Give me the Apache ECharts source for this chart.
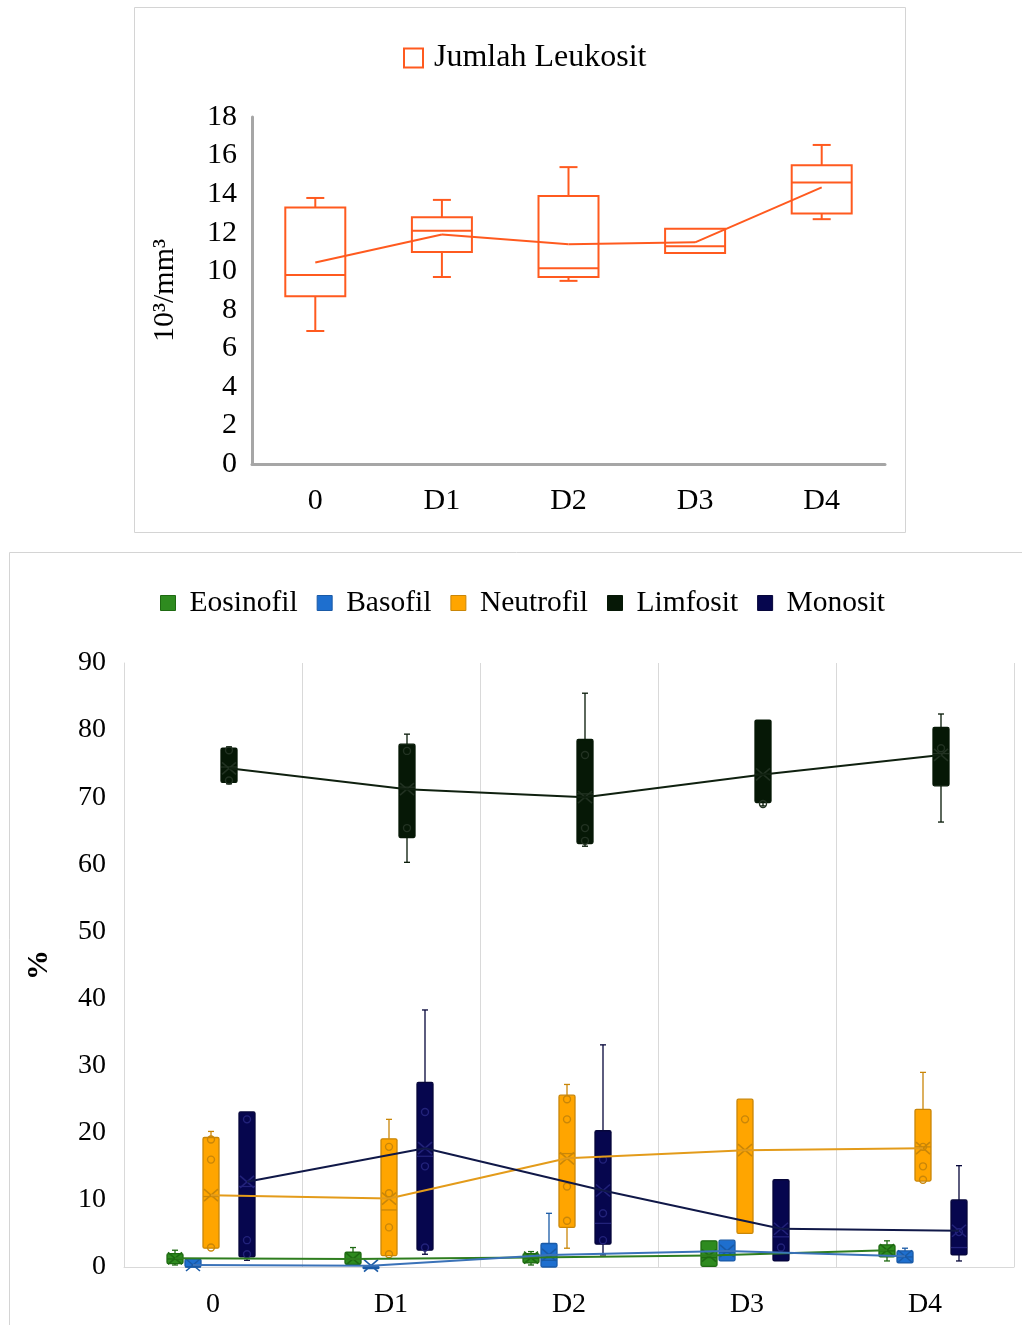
<!DOCTYPE html>
<html><head><meta charset="utf-8">
<script src="https://cdn.jsdelivr.net/npm/echarts@6/dist/echarts.min.js"></script>
<style>html,body{margin:0;padding:0;background:#fff}#c{width:1022px;height:1325px}</style>
</head><body><div id="c"></div>
<script>
// ---------- DATA ----------
const categories = ['0', 'D1', 'D2', 'D3', 'D4'];

// Top chart: Jumlah Leukosit (10^3/mm^3)  [min, Q1, median, Q3, max]
const leukositStats = [
  [6.9, 8.7, 9.8, 13.3, 13.8],
  [9.7, 11.0, 12.1, 12.8, 13.7],
  [9.5, 9.7, 10.15, 13.9, 15.4],
  [10.9, 10.95, 11.3, 12.2, 12.25],
  [12.7, 13.0, 14.6, 15.5, 16.55]
];
const leukositMean = [10.45, 11.9, 11.4, 11.5, 14.35];
const topYTicks = [0, 2, 4, 6, 8, 10, 12, 14, 16, 18];

// Bottom chart: differential count (%)  [min, Q1, median, Q3, max]
const eosinofilStats = [
  [0.3, 0.5, 1.2, 2.0, 2.5],
  [0.3, 0.4, 1.2, 2.2, 2.9],
  [0.3, 0.6, 1.3, 2.0, 2.3],
  [0.0, 0.1, 1.4, 3.9, 4.0],
  [0.9, 1.5, 2.4, 3.3, 3.9]
];
const eosinofilMean = [1.3, 1.2, 1.4, 1.7, 2.5];
const eosinofilPoints = [[], [], [], [], []];

const basofilStats = [
  [0.0, 0.0, 0.0, 1.2, 1.3],
  [0.0, 0.0, 0.0, 0.0, 0.0],
  [0.0, 0.0, 1.0, 3.5, 8.0],
  [0.9, 0.9, 2.2, 4.0, 4.0],
  [0.5, 0.6, 1.5, 2.4, 2.8]
];
const basofilMean = [0.3, 0.2, 1.8, 2.4, 1.6];
const basofilPoints = [[], [], [], [], []];

const neutrofilStats = [
  [2.7, 2.8, 10.5, 19.3, 20.2],
  [1.6, 1.7, 8.5, 19.1, 22.0],
  [2.8, 5.9, 16.9, 25.6, 27.2],
  [5.0, 5.0, 17.4, 25.0, 25.0],
  [12.7, 12.8, 17.9, 23.5, 29.0]
];
const neutrofilMean = [10.7, 10.2, 16.2, 17.4, 17.7];
const neutrofilPoints = [[19.0, 16.0, 2.9], [17.9, 11.0, 5.9, 1.9], [25.0, 22.0, 12.0, 6.9], [22.0], [17.9, 15.0, 13.0]];

const limfositStats = [
  [72.0, 72.2, 74.5, 77.3, 77.5],
  [60.3, 64.0, 71.5, 77.9, 79.4],
  [62.7, 63.1, 70.5, 78.6, 85.5],
  [68.7, 69.2, 73.4, 81.5, 81.5],
  [66.3, 71.7, 76.5, 80.4, 82.4]
];
const limfositMean = [74.3, 71.2, 70.0, 73.4, 76.3];
const limfositPoints = [[77.0, 72.5], [76.9, 65.4], [76.3, 65.4, 63.5], [69.0], [77.3]];

const monositStats = [
  [1.0, 1.5, 12.0, 23.1, 23.1],
  [1.9, 2.5, 16.5, 27.5, 38.3],
  [1.8, 3.4, 6.5, 20.3, 33.1],
  [0.9, 0.9, 4.5, 13.0, 13.0],
  [0.9, 1.8, 2.9, 10.0, 15.1]
];
const monositMean = [12.7, 17.7, 11.4, 5.7, 5.4];
const monositPoints = [[22.0, 4.0, 1.9], [23.1, 15.0, 2.9], [16.0, 8.0, 4.0], [2.9], [5.2]];
const bottomYTicks = [0, 10, 20, 30, 40, 50, 60, 70, 80, 90];

// ---------- RENDER HELPERS ----------
const FONT = "'Liberation Serif','Times New Roman',serif";

function boxSeries(name, stats, means, pts, cfg, axisIdx) {
  return {
    type: 'custom', name: name, xAxisIndex: axisIdx, yAxisIndex: axisIdx, z: 2,
    itemStyle: { color: cfg.fill === 'none' ? '#fff' : cfg.fill, borderColor: cfg.stroke, borderWidth: 1 },
    data: stats.map((s, i) => [i].concat(s)),
    encode: { x: 0, y: [1, 2, 3, 4, 5] },
    renderItem: function (params, api) {
      const i = api.value(0);
      const xc = api.coord([i, api.value(1)])[0] + cfg.offset;
      const Y = k => api.coord([i, api.value(k)])[1];
      const yMin = Y(1), yQ1 = Y(2), yMed = Y(3), yQ3 = Y(4), yMax = Y(5);
      const hw = cfg.boxW / 2, cw = cfg.capW / 2;
      const ls = { stroke: cfg.wStroke || cfg.stroke, lineWidth: cfg.lw, fill: null };
      const ch = [];
      if (yMax < yQ3 - 1) {
        ch.push({ type: 'line', shape: { x1: xc, y1: yQ3, x2: xc, y2: yMax }, style: ls });
        ch.push({ type: 'line', shape: { x1: xc - cw, y1: yMax, x2: xc + cw, y2: yMax }, style: ls });
      }
      if (yMin > yQ1 + 1) {
        ch.push({ type: 'line', shape: { x1: xc, y1: yQ1, x2: xc, y2: yMin }, style: ls });
        ch.push({ type: 'line', shape: { x1: xc - cw, y1: yMin, x2: xc + cw, y2: yMin }, style: ls });
      }
      ch.push({ type: 'rect', shape: { x: xc - hw, y: yQ3, width: cfg.boxW, height: Math.max(yQ1 - yQ3, 1.5), r: cfg.r || 0 },
        style: { fill: cfg.fill === 'none' ? null : cfg.fill, stroke: cfg.stroke, lineWidth: cfg.lw } });
      ch.push({ type: 'line', shape: { x1: xc - hw, y1: yMed, x2: xc + hw, y2: yMed }, style: { stroke: cfg.mStroke || cfg.stroke, lineWidth: cfg.lw } });
      if (cfg.showMean) {
        const ym = api.coord([i, means[i]])[1];
        const mx = hw - 1, my = cfg.markH / 2;
        const ms = { stroke: cfg.mStroke || cfg.stroke, lineWidth: 1.6 };
        ch.push({ type: 'line', shape: { x1: xc - mx, y1: ym - my, x2: xc + mx, y2: ym + my }, style: ms });
        ch.push({ type: 'line', shape: { x1: xc - mx, y1: ym + my, x2: xc + mx, y2: ym - my }, style: ms });
      }
      (pts[i] || []).forEach(v => {
        const yp = api.coord([i, v])[1];
        ch.push({ type: 'circle', shape: { cx: xc, cy: yp, r: 3.5 }, style: { fill: null, stroke: cfg.mStroke || cfg.stroke, lineWidth: 1.4 } });
      });
      return { type: 'group', children: ch };
    }
  };
}

function meanLine(name, means, cfg, axisIdx) {
  return {
    type: 'custom', name: name, xAxisIndex: axisIdx, yAxisIndex: axisIdx, z: 5,
    itemStyle: { color: cfg.color },
    data: means.map((m, i) => [i, m]),
    encode: { x: 0, y: 1 },
    renderItem: function (params, api) {
      const i = api.value(0);
      if (i >= means.length - 1) return { type: 'group', children: [] };
      const p1 = api.coord([i, means[i]]), p2 = api.coord([i + 1, means[i + 1]]);
      return { type: 'line', shape: { x1: p1[0] + cfg.offset, y1: p1[1], x2: p2[0] + cfg.offset, y2: p2[1] },
        style: { stroke: cfg.color, lineWidth: cfg.lw } };
    }
  };
}

const ORANGE = '#FF5A1F';
const groups = [
  { name: 'Eosinofil', stats: eosinofilStats, mean: eosinofilMean, pts: eosinofilPoints, offset: -38, fill: '#2E8B1F', stroke: '#1E6A12', line: '#2E7D1E' },
  { name: 'Basofil', stats: basofilStats, mean: basofilMean, pts: basofilPoints, offset: -20, fill: '#1E6FCF', stroke: '#1A5AA6', line: '#3A72B8' },
  { name: 'Neutrofil', stats: neutrofilStats, mean: neutrofilMean, pts: neutrofilPoints, offset: -2, fill: '#FFA500', stroke: '#C98608', line: '#E39B1A' },
  { name: 'Limfosit', stats: limfositStats, mean: limfositMean, pts: limfositPoints, offset: 16, fill: '#061806', stroke: '#061806', mStroke: '#223222', line: '#0F200F' },
  { name: 'Monosit', stats: monositStats, mean: monositMean, pts: monositPoints, offset: 34, fill: '#06064E', stroke: '#06063A', mStroke: '#22227A', line: '#101848' }
];

const series = [];
series.push(boxSeries('Jumlah Leukosit', leukositStats, leukositMean, [[], [], [], [], []],
  { offset: 0, boxW: 60, capW: 18, fill: 'none', stroke: ORANGE, lw: 2, showMean: false }, 0));
series.push(meanLine('Jumlah Leukosit', leukositMean, { offset: 0, color: ORANGE, lw: 2 }, 0));
groups.forEach(g => {
  series.push(boxSeries(g.name, g.stats, g.mean, g.pts,
    { offset: g.offset, boxW: 16, capW: 6, fill: g.fill, stroke: g.stroke, mStroke: g.mStroke, lw: 1.3, showMean: true, markH: 12, r: 1.5 }, 1));
});
groups.forEach(g => {
  series.push(meanLine(g.name, g.mean, { offset: g.offset, color: g.line, lw: 2 }, 1));
});

const chart = echarts.init(document.getElementById('c'), null, { renderer: 'canvas' });
chart.setOption({
  backgroundColor: '#fff',
  animation: false,
  textStyle: { fontFamily: FONT },
  graphic: [
    { type: 'rect', silent: true, z: -10, shape: { x: 134.5, y: 7.5, width: 771, height: 525 }, style: { fill: null, stroke: '#d4d4d4', lineWidth: 1 } },
    { type: 'rect', silent: true, z: -10, shape: { x: 9.5, y: 552.5, width: 1040, height: 800 }, style: { fill: null, stroke: '#d4d4d4', lineWidth: 1 } }
  ],
  legend: [
    {
      left: 403, top: 42, padding: 0, itemWidth: 19, itemHeight: 19,
      textStyle: { fontFamily: FONT, fontSize: 32, color: '#000', padding: [0, 0, 0, 6], lineHeight: 32 },
      data: [{ name: 'Jumlah Leukosit', icon: 'rect', itemStyle: { color: '#fff', borderColor: ORANGE, borderWidth: 2 } }]
    },
    {
      left: 160, top: 588, padding: 0, itemWidth: 15, itemHeight: 15, itemGap: 19,
      textStyle: { fontFamily: FONT, fontSize: 29.5, color: '#000', padding: [0, 0, 0, 9], lineHeight: 30 },
      data: groups.map(g => ({ name: g.name, icon: 'rect', itemStyle: { color: g.fill, borderColor: g.stroke, borderWidth: 1 } }))
    }
  ],
  grid: [
    { left: 252, top: 117, width: 633, height: 347 },
    { left: 124, top: 663, width: 890, height: 604 }
  ],
  xAxis: [
    {
      gridIndex: 0, type: 'category', data: categories,
      axisLine: { lineStyle: { color: '#A6A6A6', width: 3 } },
      axisTick: { show: false },
      axisLabel: { fontFamily: FONT, fontSize: 30, color: '#000', margin: 22 },
      splitLine: { show: false }
    },
    {
      gridIndex: 1, type: 'category', data: categories,
      axisLine: { lineStyle: { color: '#D9D9D9', width: 1 } },
      axisTick: { show: false },
      axisLabel: { fontFamily: FONT, fontSize: 28, color: '#000', margin: 24 },
      splitLine: { show: true, lineStyle: { color: '#D9D9D9', width: 1 } }
    }
  ],
  yAxis: [
    {
      gridIndex: 0, type: 'value', min: topYTicks[0], max: topYTicks[topYTicks.length - 1], interval: topYTicks[1] - topYTicks[0],
      axisLine: { show: true, lineStyle: { color: '#A6A6A6', width: 3 } },
      axisTick: { show: false }, splitLine: { show: false },
      axisLabel: { fontFamily: FONT, fontSize: 30, color: '#000', margin: 15 },
      name: '10³/mm³', nameLocation: 'middle', nameGap: 72, nameRotate: 90,
      nameTextStyle: { fontFamily: FONT, fontSize: 30, color: '#000' }
    },
    {
      gridIndex: 1, type: 'value', min: bottomYTicks[0], max: bottomYTicks[bottomYTicks.length - 1], interval: bottomYTicks[1] - bottomYTicks[0],
      axisLine: { show: true, lineStyle: { color: '#D9D9D9', width: 1 } },
      axisTick: { show: false }, splitLine: { show: false },
      axisLabel: { fontFamily: FONT, fontSize: 28, color: '#000', margin: 18 },
      name: '%', nameLocation: 'middle', nameGap: 70, nameRotate: 90,
      nameTextStyle: { fontFamily: FONT, fontSize: 30, fontWeight: 'bold', color: '#000' }
    }
  ],
  series: series
});
</script>
</body></html>
